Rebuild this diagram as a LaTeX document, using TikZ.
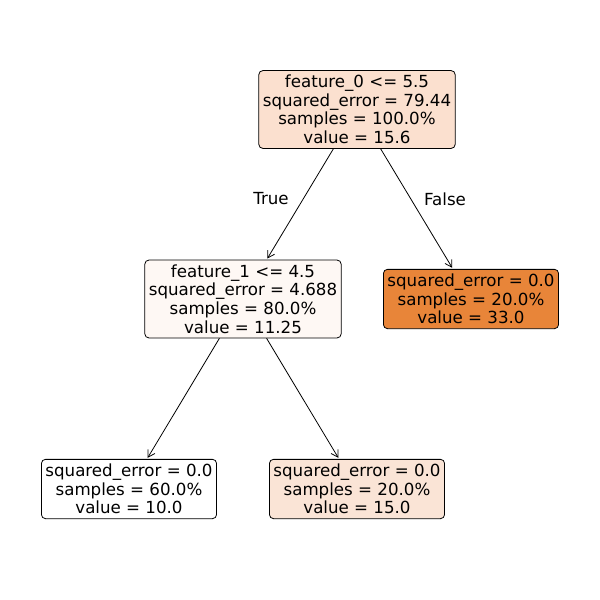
\documentclass[tikz,border=0pt]{standalone}
\usepackage{fontspec}
\setmainfont{DejaVu Sans}
\usetikzlibrary{arrows.meta}
\definecolor{c0}{HTML}{FBE0CF}
\definecolor{c1}{HTML}{FEF8F4}
\definecolor{c2}{HTML}{E88539}
\definecolor{c3}{HTML}{FFFFFF}
\definecolor{c4}{HTML}{FAE4D6}
\begin{document}
\begin{tikzpicture}[x=0.75pt,y=-0.75pt,
  tn/.style={draw,rounded corners=3pt,align=center,inner xsep=3pt,inner ysep=3.5pt,line width=0.6pt,
    font=\fontsize{12.5}{13.9}\selectfont},
  arr/.style={-{Straight Barb[length=5pt,width=6pt]},line width=0.6pt,shorten >=1pt,shorten <=0pt},
  lab/.style={font=\fontsize{12.5}{13.9}\selectfont}]
\useasboundingbox (0,0) rectangle (600,600);
\node[tn,fill=c0] (r) at (357,109.5) {feature\_0 <= 5.5\\squared\_error = 79.44\\samples = 100.0\%\\value = 15.6};
\node[tn,fill=c1] (l) at (243,299) {feature\_1 <= 4.5\\squared\_error = 4.688\\samples = 80.0\%\\value = 11.25};
\node[tn,fill=c2] (rr) at (471,299) {squared\_error = 0.0\\samples = 20.0\%\\value = 33.0};
\node[tn,fill=c3] (ll) at (129,489) {squared\_error = 0.0\\samples = 60.0\%\\value = 10.0};
\node[tn,fill=c4] (lr) at (357,489) {squared\_error = 0.0\\samples = 20.0\%\\value = 15.0};
\draw[arr] (r) -- (l);
\draw[arr] (r) -- (rr);
\draw[arr] (l) -- (ll);
\draw[arr] (l) -- (lr);
\node[lab] (t) at (271,199) {True};
\node[lab] (f) at (445,199) {False};
\end{tikzpicture}
\end{document}
